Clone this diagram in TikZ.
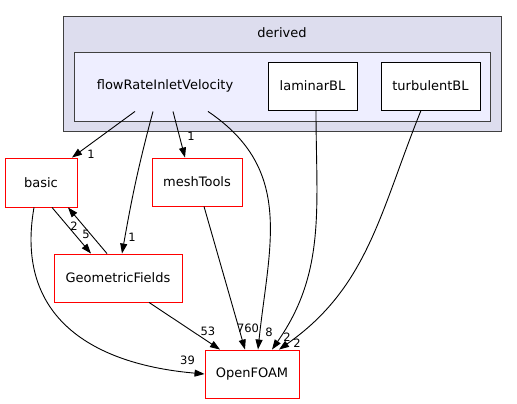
\documentclass[tikz,border=0pt]{standalone}
\usepackage{fontspec}
\setmainfont{DejaVu Sans}
\usetikzlibrary{arrows.meta}
\definecolor{clusterouter}{HTML}{DDDDEE}
\definecolor{clusterinner}{HTML}{EEEEFF}
\definecolor{clusterline}{HTML}{404040}

\begin{document}
\begin{tikzpicture}[x=1pt, y=-1pt, ->, >={Triangle[length=10pt,width=7pt]}, line width=0.9pt,
    font=\fontsize{13}{15}\selectfont,
    cluster/.style={draw=clusterline, rectangle, line width=1pt, anchor=north west, inner sep=0pt},
    dir/.style={draw=red, fill=white, rectangle, inner sep=0pt, minimum height=48pt, text centered},
    sub/.style={draw=black, fill=white, rectangle, inner sep=0pt, minimum height=48pt, text centered},
    num/.style={font=\fontsize{11.5}{13}\selectfont, inner sep=0pt, pos=1}]

    \useasboundingbox (0,0) rectangle (517,404);

    \node[cluster, fill=clusterouter, minimum width=438pt, minimum height=115pt] (derived) at (63,16)
    {};
    
    \node (derivedlbl) at (282,33)
    {derived};
    
    \node[cluster, fill=clusterinner, minimum width=416pt, minimum height=69pt] (FRIVdir) at (74,52)
    {};
    
    \node[minimum width=150pt, minimum height=50pt, inner sep=0pt] (FRIV) at (165,86)
    {flowRateInletVelocity};
    
    \node[sub, minimum width=89pt] (laminarBL) at (312.5,86)
    {laminarBL};
    
    \node[sub, minimum width=99pt] (turbulentBL) at (430.5,86)
    {turbulentBL};
    
    % ---------------------------------------------------------
    
    \node[dir, minimum width=72pt, minimum height=49pt] (basic) at (41,182.5)
    {basic};
    
    \node[dir, minimum width=90pt] (meshTools) at (197,182)
    {meshTools};
    
    \node[dir, minimum width=128pt] (GeometricFields) at (118,278)
    {GeometricFields};
    
    \node[dir, minimum width=94pt] (OpenFOAM) at (252,374)
    {OpenFOAM};
    
    \path[]
    {
        ([xshift=-30pt]FRIV.south) edge node[num, xshift=19pt, yshift=3pt] {1} ([xshift=31pt]basic.north)
        ([xshift=-12pt]FRIV.south) edge[out=-105, in=80] node[num, xshift=10pt, yshift=16pt] {1} ([xshift=4pt]GeometricFields.north)
        ([xshift=8pt]FRIV.south) edge node[num, xshift=6pt, yshift=21pt] {1} ([xshift=-12pt]meshTools.north)
        ([xshift=43pt]FRIV.south) edge[out=-34, in=84, looseness=1.1] node[num, xshift=11pt, yshift=17pt] {8} ([xshift=6pt]OpenFOAM.north)
        
        ([xshift=3.5pt]laminarBL.south) edge[out=-90, in=55] node[num, xshift=15pt, yshift=12pt] {2} ([xshift=20pt]OpenFOAM.north)
        ([xshift=-9.5pt]turbulentBL.south) edge[out=-112, in=35] node[num, xshift=18pt, yshift=6pt] {2} ([xshift=27pt]OpenFOAM.north)
        
        % --------------------------------------------------
        
        ([xshift=7pt]meshTools.south) edge node[num, xshift=3pt, yshift=21pt] {760} ([xshift=-7pt]OpenFOAM.north)
        ([xshift=31pt]GeometricFields.south) edge node[num, xshift=-12pt, yshift=18pt] {53} ([xshift=-32pt]OpenFOAM.north)
        
        ([xshift=11pt]basic.south) edge node[num, xshift=-5pt, yshift=19pt] {5} ([xshift=-27pt]GeometricFields.north)
        ([xshift=-11pt]GeometricFields.north) edge node[num, xshift=6pt, yshift=-19pt] {2} ([xshift=27pt]basic.south)
        ([xshift=-7pt]basic.south) edge[out=-100, in=175, looseness=1.2] node[num, xshift=-17pt, yshift=14pt] {39} (OpenFOAM.west)
    };
\end{tikzpicture}
\end{document}
